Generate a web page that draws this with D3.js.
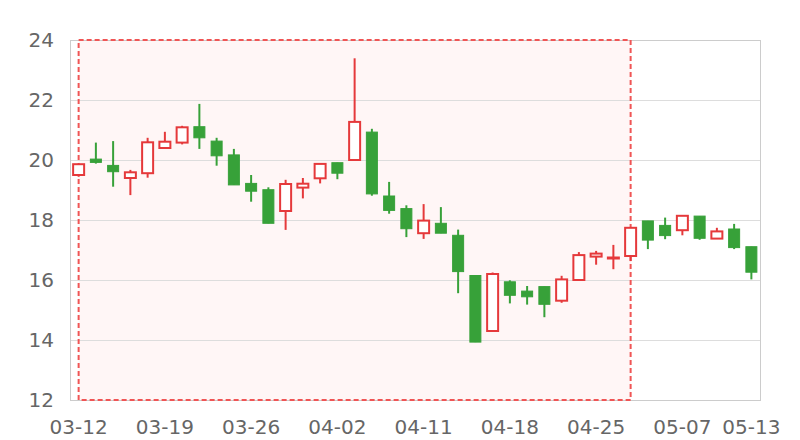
<!DOCTYPE html>
<html>
<head>
<meta charset="utf-8">
<script src="https://cdn.jsdelivr.net/npm/d3@7/dist/d3.min.js"></script>
<style>
  html, body { margin: 0; padding: 0; background: #fff; }
  svg { display: block; }
  text { font-family: "DejaVu Sans", sans-serif; }
</style>
</head>
<body>
<svg id="chart" width="800" height="440"></svg>
<script>
const dates = ["03-12","03-13","03-14","03-15","03-16","03-19","03-20","03-21","03-22","03-23",
  "03-26","03-27","03-28","03-29","03-30","04-02","04-03","04-04","04-09","04-10",
  "04-11","04-12","04-13","04-16","04-17","04-18","04-19","04-20","04-23","04-24",
  "04-25","04-26","04-27","05-02","05-03","05-07","05-08","05-09","05-10","05-13"];
const openV  = [19.50,20.03,19.82,19.40,19.56,20.40,20.58,21.11,20.63,20.17,
  19.22,19.01,18.30,19.08,19.39,19.91,20.00,20.93,18.80,18.38,
  17.56,17.89,17.49,16.15,14.30,15.94,15.63,15.78,15.31,16.00,
  16.78,16.72,16.80,17.97,17.82,17.66,18.13,17.38,17.70,17.11];
const closeV = [19.86,19.92,19.61,19.59,20.59,20.61,21.09,20.74,20.14,19.17,
  18.96,17.89,19.20,19.21,19.87,19.56,21.27,18.87,18.32,17.71,
  17.98,17.56,16.28,13.93,16.20,15.49,15.44,15.19,16.02,16.83,
  16.88,16.75,17.74,17.33,17.48,18.14,17.39,17.62,17.08,16.26];
const highV  = [19.86,20.58,20.63,19.67,20.74,20.94,21.14,21.87,20.74,20.37,
  19.50,19.09,19.34,19.40,19.89,19.91,23.39,21.04,19.27,18.49,
  18.53,18.43,17.68,16.15,16.25,15.99,15.80,15.78,16.14,16.93,
  16.97,17.17,17.74,17.97,18.08,18.14,18.13,17.74,17.87,17.11];
const lowV   = [19.44,19.88,19.11,18.83,19.41,20.40,20.52,20.37,19.81,19.17,
  18.61,17.89,17.67,18.72,19.22,19.36,20.00,18.81,18.21,17.43,
  17.37,17.56,15.56,13.93,14.30,15.22,15.18,14.76,15.24,16.00,
  16.51,16.36,16.63,17.03,17.36,17.49,17.34,17.38,17.03,16.02];
const yTicks = [12,14,16,18,20,22,24];
const xTickLabels = ["03-12","03-19","03-26","04-02","04-11","04-18","04-25","05-07","05-13"];
const markRange = ["03-12","04-27"];

const upColor = "#e5393b", downColor = "#37a139";
const W = 800, H = 440, m = {l:70, r:40, t:40, b:40};
const svg = d3.select("#chart");

const x = d3.scaleBand().domain(dates).range([m.l, W - m.r]).padding(0);
const y = d3.scaleLinear().domain([12, 24]).range([H - m.b, m.t]);
const cx = d => x(d) + x.bandwidth() / 2;

// mark area fill (translucent, behind grid)
svg.append("rect")
  .attr("x", cx(markRange[0])).attr("y", y(24))
  .attr("width", cx(markRange[1]) - cx(markRange[0]))
  .attr("height", y(12) - y(24))
  .attr("fill", "rgba(255,0,0,0.035)");

// grid
svg.append("g").selectAll("line").data(yTicks).join("line")
  .attr("x1", m.l).attr("x2", W - m.r)
  .attr("y1", d => y(d) + 0.5).attr("y2", d => y(d) + 0.5)
  .attr("stroke", "#dddddd").attr("stroke-width", 1);
// frame
svg.append("rect").attr("x", m.l + 0.5).attr("y", m.t + 0.5)
  .attr("width", W - m.l - m.r).attr("height", H - m.t - m.b)
  .attr("fill", "none").attr("stroke", "#cccccc").attr("stroke-width", 1);

// mark area border
svg.append("rect")
  .attr("x", cx(markRange[0])).attr("y", y(24))
  .attr("width", cx(markRange[1]) - cx(markRange[0]))
  .attr("height", y(12) - y(24))
  .attr("fill", "none").attr("stroke", "#f05555")
  .attr("stroke-width", 2).attr("stroke-dasharray", "5,3");

const data = dates.map((d, i) => ({d, o: openV[i], c: closeV[i], h: highV[i], l: lowV[i]}));
const bw = 11;
const g = svg.append("g");
const cand = g.selectAll("g").data(data).join("g");
cand.append("line")
  .attr("x1", d => cx(d.d)).attr("x2", d => cx(d.d))
  .attr("y1", d => y(d.h)).attr("y2", d => y(d.l))
  .attr("stroke", d => d.c >= d.o ? upColor : downColor).attr("stroke-width", 2);
cand.append("rect")
  .attr("x", d => cx(d.d) - bw / 2)
  .attr("y", d => y(Math.max(d.o, d.c)))
  .attr("width", bw)
  .attr("height", d => Math.max(1, Math.abs(y(d.o) - y(d.c))))
  .attr("fill", d => d.c >= d.o ? "#ffffff" : downColor)
  .attr("stroke", d => d.c >= d.o ? upColor : downColor)
  .attr("stroke-width", d => d.c >= d.o ? 2 : 1);

// y labels
svg.append("g").selectAll("text").data(yTicks).join("text")
  .attr("x", 54).attr("y", d => y(d)).attr("dy", "0.36em")
  .attr("text-anchor", "end").attr("font-size", 20).attr("fill", "#666666")
  .text(d => d);
// x labels
svg.append("g").selectAll("text").data(xTickLabels).join("text")
  .attr("x", d => cx(d)).attr("y", 434)
  .attr("text-anchor", "middle").attr("font-size", 20).attr("fill", "#666666")
  .text(d => d);
</script>
</body>
</html>
